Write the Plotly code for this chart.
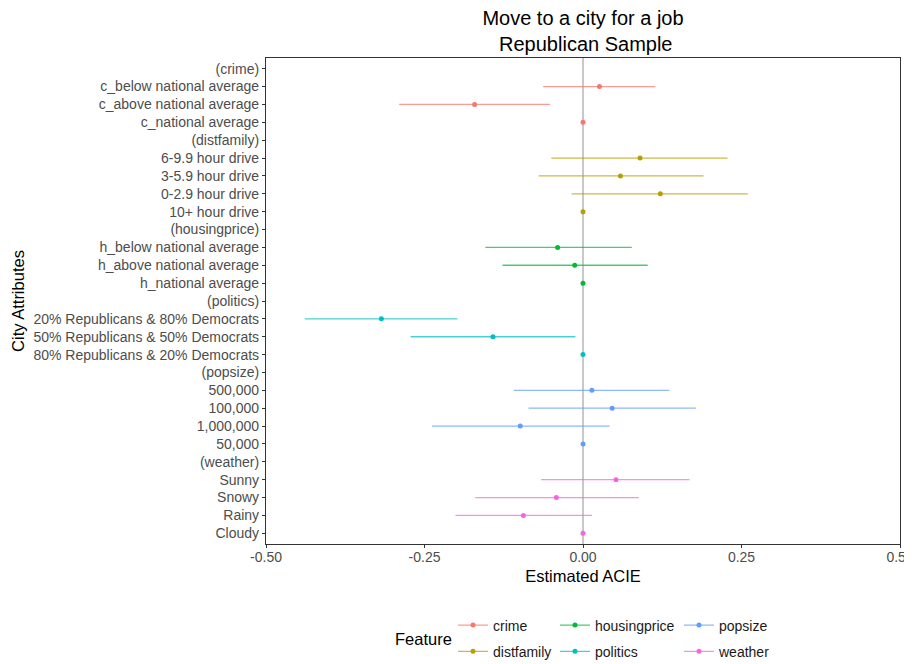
import plotly.graph_objects as go

# ---- data ----
features = ["crime", "distfamily", "housingprice", "politics", "popsize", "weather"]
feature_colors = ["#F8766D", "#B79F00", "#00BA38", "#00BFC4", "#619CFF", "#F564E3"]

attribute = [
    "c_below national average", "c_above national average", "c_national average",
    "6-9.9 hour drive", "3-5.9 hour drive", "0-2.9 hour drive", "10+ hour drive",
    "h_below national average", "h_above national average", "h_national average",
    "20% Republicans & 80% Democrats", "50% Republicans & 50% Democrats", "80% Republicans & 20% Democrats",
    "500,000", "100,000", "1,000,000", "50,000",
    "Sunny", "Snowy", "Rainy", "Cloudy",
]
attr_feature = [
    "crime", "crime", "crime",
    "distfamily", "distfamily", "distfamily", "distfamily",
    "housingprice", "housingprice", "housingprice",
    "politics", "politics", "politics",
    "popsize", "popsize", "popsize", "popsize",
    "weather", "weather", "weather", "weather",
]
estimate = [
    0.026, -0.171, 0.0,
    0.090, 0.059, 0.122, 0.0,
    -0.040, -0.013, 0.0,
    -0.318, -0.142, 0.0,
    0.014, 0.046, -0.099, 0.0,
    0.052, -0.042, -0.094, 0.0,
]
ci_low = [
    -0.063, -0.290, None,
    -0.050, -0.070, -0.018, None,
    -0.154, -0.127, None,
    -0.439, -0.272, None,
    -0.109, -0.086, -0.238, None,
    -0.066, -0.170, -0.201, None,
]
ci_high = [
    0.114, -0.052, None,
    0.228, 0.190, 0.260, None,
    0.077, 0.102, None,
    -0.198, -0.012, None,
    0.136, 0.178, 0.042, None,
    0.168, 0.088, 0.014, None,
]
x_ticks = [-0.5, -0.25, 0.0, 0.25, 0.5]
x_tick_labels = ["-0.50", "-0.25", "0.00", "0.25", "0.50"]

# category order, top to bottom
order_top = []
for f in features:
    order_top.append("(" + f + ")")
    order_top += [a for a, af in zip(attribute, attr_feature) if af == f]
cat_array = list(reversed(order_top))  # first category is drawn at bottom


def rgba(hexc, a):
    h = hexc.lstrip("#")
    return "rgba(%d,%d,%d,%.2f)" % (int(h[0:2], 16), int(h[2:4], 16), int(h[4:6], 16), a)


FONT = "Liberation Sans, Arial, sans-serif"
fig = go.Figure()

# invisible trace to register every category (including header rows)
fig.add_trace(go.Scatter(x=[0] * len(order_top), y=order_top, mode="markers",
                         marker=dict(opacity=0), showlegend=False, hoverinfo="skip"))

legend_ids = ["legend", "legend", "legend2", "legend2", "legend3", "legend3"]
for f, col, lid in zip(features, feature_colors, legend_ids):
    idx = [i for i, af in enumerate(attr_feature) if af == f]
    ys = [attribute[i] for i in idx]
    xs = [estimate[i] for i in idx]
    plus = [(ci_high[i] - estimate[i]) if ci_high[i] is not None else 0 for i in idx]
    minus = [(estimate[i] - ci_low[i]) if ci_low[i] is not None else 0 for i in idx]
    fig.add_trace(go.Scatter(
        x=xs, y=ys, mode="markers", name=f, showlegend=False,
        marker=dict(color=col, size=5),
        error_x=dict(type="data", array=plus, arrayminus=minus, symmetric=False,
                     width=0, thickness=1.3, color=rgba(col, 0.72)),
    ))
    # legend entry (no data drawn)
    fig.add_trace(go.Scatter(
        x=[None], y=[None], mode="lines+markers", name=f, legend=lid, legendgroup=f,
        line=dict(color=rgba(col, 0.72), width=1.3),
        marker=dict(color=col, size=5),
    ))

# page body has an 8px margin: figure coords = window coords - 8
OFF = 8
W, H = 904, 656
PL, PR, PT, PB = 266 - OFF, W - (900 - OFF), 58 - OFF, H - (544 - OFF)
PW, PH = W - PL - PR, H - PT - PB


def px_x(xw):
    return (xw - OFF - PL) / PW


def px_y(yw):
    return (H - PB - (yw - OFF)) / PH


leg_common = dict(orientation="v", xanchor="left", yanchor="top", bgcolor="rgba(0,0,0,0)",
                  font=dict(family=FONT, size=14, color="#1A1A1A"),
                  traceorder="grouped", tracegroupgap=5, itemwidth=30)
y_leg = px_y(609.5)

fig.update_layout(
    width=W, height=H,
    margin=dict(l=PL, r=PR, t=PT, b=PB, autoexpand=False),
    paper_bgcolor="white", plot_bgcolor="white",
    font=dict(family=FONT, color="#000000"),
    title=dict(text="Move to a city for a job<br> Republican Sample",
               x=0.5, xref="paper", xanchor="center",
               y=1 - (24.5 - OFF) / H, yref="container", yanchor="middle",
               font=dict(family=FONT, size=20, color="#000000")),
    xaxis=dict(range=[-0.5, 0.5], tickvals=x_ticks, ticktext=x_tick_labels,
               showgrid=False, zeroline=True, zerolinecolor="#C8C8C8", zerolinewidth=1.5,
               showline=True, mirror=True, linecolor="#333333", linewidth=1.2,
               ticks="outside", ticklen=3, tickcolor="#333333", tickwidth=1.2,
               ticklabeloverflow="allow", ticklabelstandoff=-3,
               tickfont=dict(family=FONT, size=14, color="#4D4D4D"),
               title=dict(text="Estimated ACIE", standoff=6,
                          font=dict(family=FONT, size=16.5, color="#000000"))),
    yaxis=dict(type="category", categoryorder="array", categoryarray=cat_array,
               range=[-0.6, len(cat_array) - 0.4],
               showgrid=False, zeroline=False,
               showline=True, mirror=True, linecolor="#333333", linewidth=1.2,
               ticks="outside", ticklen=3, tickcolor="#333333", tickwidth=1.2,
               tickfont=dict(family=FONT, size=14, color="#4D4D4D"),
               title=dict(text="City Attributes", standoff=4,
                          font=dict(family=FONT, size=16.5, color="#000000"))),
    legend=dict(x=px_x(453), y=y_leg, **leg_common),
    legend2=dict(x=px_x(555), y=y_leg, **leg_common),
    legend3=dict(x=px_x(679), y=y_leg, **leg_common),
    annotations=[dict(text="Feature", xref="paper", yref="paper",
                      x=px_x(423), y=px_y(639),
                      xanchor="center", yanchor="middle", showarrow=False,
                      font=dict(family=FONT, size=16.5, color="#000000"))],
    showlegend=True,
)

fig.write_html("out.html")
